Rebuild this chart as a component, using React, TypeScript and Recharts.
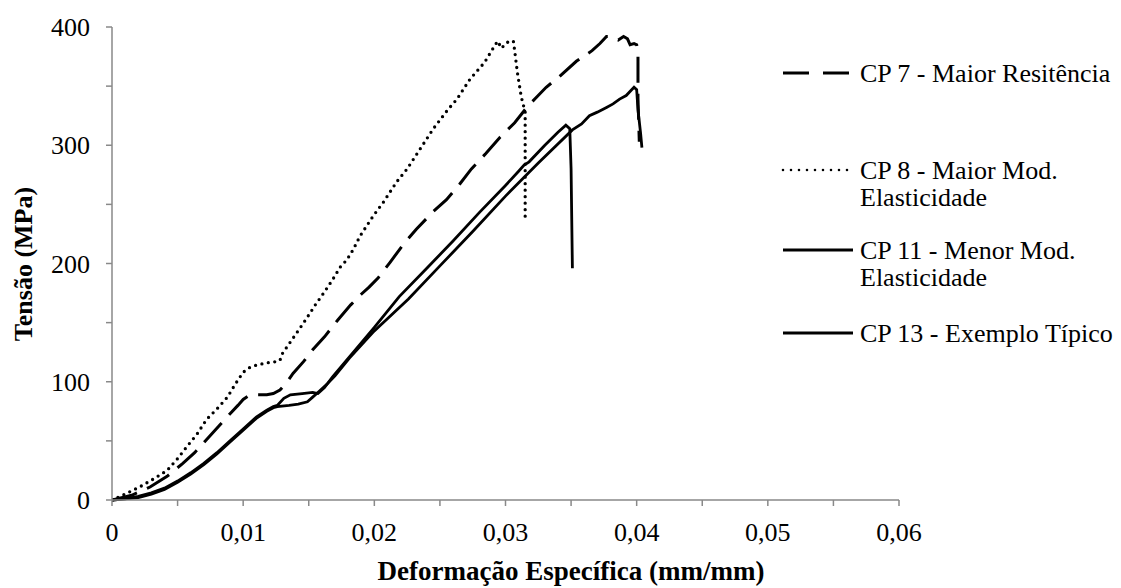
import React from "react";
import { LineChart, Line, XAxis, YAxis } from "recharts";

// ---------- data (strain mm/mm, stress MPa) ----------
const cp7Strain = [0, 0.0015, 0.0029, 0.0042, 0.0054, 0.0063, 0.0072, 0.0081, 0.009, 0.0096, 0.01, 0.0104, 0.0108, 0.0113, 0.0118, 0.0123, 0.0128, 0.0133, 0.0138, 0.0146, 0.0153, 0.0162, 0.0172, 0.0182, 0.019, 0.0196, 0.0203, 0.0212, 0.0222, 0.0232, 0.0245, 0.0255, 0.0265, 0.0274, 0.0285, 0.0296, 0.0307, 0.0317, 0.0324, 0.0331, 0.0341, 0.0354, 0.0366, 0.0372, 0.0377, 0.0381, 0.0386, 0.039, 0.0393, 0.0395, 0.0398, 0.04, 0.0401, 0.0401, 0.0402];
const cp7Stress = [0, 4, 11, 20, 31, 40, 51, 62, 73, 80, 85, 88, 89, 89, 89, 90, 93, 99, 107, 117, 127, 138, 152, 165, 174, 180, 188, 201, 216, 229, 244, 254, 267, 280, 293, 307, 319, 333, 341, 349, 358, 371, 380, 386, 392, 392, 389, 392, 390, 385, 386, 385, 379, 340, 303];

const cp8Strain = [0, 0.001, 0.0021, 0.0032, 0.0042, 0.005, 0.0057, 0.0065, 0.0072, 0.008, 0.0088, 0.0094, 0.01, 0.0105, 0.011, 0.0118, 0.0125, 0.0128, 0.013, 0.0135, 0.014, 0.0148, 0.0155, 0.0162, 0.0168, 0.0174, 0.0179, 0.0184, 0.0189, 0.0199, 0.0207, 0.0217, 0.0225, 0.0235, 0.0245, 0.0256, 0.0263, 0.0273, 0.0284, 0.029, 0.0294, 0.0297, 0.03, 0.0303, 0.0306, 0.0307, 0.0309, 0.0312, 0.0315, 0.0315];
const cp8Stress = [0, 5, 11, 18, 25, 35, 45, 56, 68, 77, 87, 98, 108, 112, 114, 116, 117, 118, 124, 132, 140, 153, 165, 176, 186, 197, 203, 212, 223, 240, 252, 269, 280, 297, 314, 330, 339, 356, 370, 381, 388, 382, 386, 388, 388, 380, 362, 341, 328, 235];

const cp11Strain = [0, 0.001, 0.002, 0.003, 0.004, 0.005, 0.006, 0.007, 0.008, 0.009, 0.01, 0.011, 0.0118, 0.0123, 0.0126, 0.0131, 0.0136, 0.0145, 0.0153, 0.0157, 0.0162, 0.0168, 0.0181, 0.02, 0.0219, 0.024, 0.026, 0.028, 0.03, 0.031, 0.0314, 0.0318, 0.033, 0.034, 0.0346, 0.0349, 0.035, 0.0351];
const cp11Stress = [0, 1, 3, 6, 10, 16, 23, 31, 40, 50, 60, 70, 76, 79, 80, 86, 89, 90, 91, 90, 95, 104, 121, 146, 172, 196, 219, 243, 266, 278, 283, 286, 300, 311, 317, 314, 280, 196];

const cp13Strain = [0, 0.001, 0.002, 0.003, 0.004, 0.005, 0.006, 0.007, 0.008, 0.009, 0.01, 0.011, 0.0118, 0.0123, 0.0126, 0.0135, 0.0142, 0.0149, 0.0153, 0.0158, 0.0164, 0.017, 0.0181, 0.02, 0.0226, 0.025, 0.0275, 0.03, 0.0325, 0.0351, 0.0358, 0.0364, 0.037, 0.0377, 0.0382, 0.0387, 0.0392, 0.0398, 0.04, 0.0401, 0.0403, 0.0404];
const cp13Stress = [0, 1, 2, 5, 9, 15, 22, 30, 39, 49, 59, 69, 75, 78, 79, 80, 81, 83, 87, 92, 98, 105, 120, 143, 170, 198, 227, 257, 285, 313, 318, 325, 328, 332, 335, 339, 342, 349, 347, 330, 310, 298];

const seriesNames = [
  ["CP 7 - Maior Resitência"],
  ["CP 8 - Maior Mod.", "Elasticidade"],
  ["CP 11 - Menor Mod.", "Elasticidade"],
  ["CP 13 - Exemplo Típico"],
];

const xTicks = [0, 0.005, 0.01, 0.015, 0.02, 0.025, 0.03, 0.035, 0.04, 0.045, 0.05, 0.055, 0.06];
const xTickLabels = ["0", "", "0,01", "", "0,02", "", "0,03", "", "0,04", "", "0,05", "", "0,06"];
const yTicks = [0, 50, 100, 150, 200, 250, 300, 350, 400];
const yTickLabels = ["0", "", "100", "", "200", "", "300", "", "400"];

const xTitle = "Deformação Específica (mm/mm)";
const yTitle = "Tensão (MPa)";

const toData = (xs: number[], ys: number[]) => xs.map((x, i) => ({ x, y: ys[i] }));
const cp7Data = toData(cp7Strain, cp7Stress);
const cp8Data = toData(cp8Strain, cp8Stress);
const cp11Data = toData(cp11Strain, cp11Stress);
const cp13Data = toData(cp13Strain, cp13Stress);

const FONT = "'Liberation Serif', 'Times New Roman', serif";
const AXIS = "#898989";

const XTick = (props: any) => {
  const { x, y, payload } = props;
  const idx = xTicks.findIndex((t) => Math.abs(t - payload.value) < 1e-9);
  const label = idx >= 0 ? xTickLabels[idx] : "";
  if (!label) return null;
  return (
    <text x={x} y={y + 33} textAnchor="middle" fontFamily={FONT} fontSize={26} fill="#000">
      {label}
    </text>
  );
};

const YTick = (props: any) => {
  const { x, y, payload } = props;
  const idx = yTicks.indexOf(payload.value);
  const label = idx >= 0 ? yTickLabels[idx] : "";
  if (!label) return null;
  return (
    <text x={x - 14} y={y + 9} textAnchor="end" fontFamily={FONT} fontSize={26} fill="#000">
      {label}
    </text>
  );
};

const legendStyles = [
  { dash: "26 14", width: 3, cap: "butt" },
  { dash: "0 8", width: 2.6, cap: "round" },
  { dash: undefined, width: 3, cap: "butt" },
  { dash: undefined, width: 3, cap: "butt" },
];
const legendRowY = [73, 170, 250, 333];

export default function App() {
  return (
    <div style={{ position: "absolute", left: 0, top: 0, width: 1121, height: 588, background: "#fff" }}>
      <LineChart width={1121} height={588} margin={{ top: 27, right: 222, bottom: 0, left: 0 }}>
        <XAxis
          type="number"
          dataKey="x"
          domain={[0, 0.06]}
          ticks={xTicks}
          allowDataOverflow
          height={88}
          tickSize={6}
          tick={<XTick />}
          axisLine={{ stroke: AXIS, strokeWidth: 1.5 }}
          tickLine={{ stroke: AXIS, strokeWidth: 1.5 }}
          interval={0}
        />
        <YAxis
          type="number"
          domain={[0, 400]}
          ticks={yTicks}
          width={112}
          tickSize={6}
          tick={<YTick />}
          axisLine={{ stroke: AXIS, strokeWidth: 1.5 }}
          tickLine={{ stroke: AXIS, strokeWidth: 1.5 }}
          interval={0}
        />
        <Line data={cp11Data} dataKey="y" type="linear" stroke="#000" strokeWidth={2.8} dot={false} isAnimationActive={false} />
        <Line data={cp13Data} dataKey="y" type="linear" stroke="#000" strokeWidth={2.8} dot={false} isAnimationActive={false} />
        <Line data={cp7Data} dataKey="y" type="linear" stroke="#000" strokeWidth={3} strokeDasharray="26 11" dot={false} isAnimationActive={false} />
        <Line data={cp8Data} dataKey="y" type="linear" stroke="#000" strokeWidth={3.3} strokeDasharray="0 6.5" strokeLinecap="round" dot={false} isAnimationActive={false} />
      </LineChart>
      <svg width={1121} height={588} style={{ position: "absolute", left: 0, top: 0, pointerEvents: "none" }}>
        <text x={571} y={580} textAnchor="middle" fontFamily={FONT} fontSize={27} fontWeight="bold" fill="#000">
          {xTitle}
        </text>
        <text
          x={0}
          y={0}
          transform="translate(32,264) rotate(-90)"
          textAnchor="middle"
          fontFamily={FONT}
          fontSize={26}
          fontWeight="bold"
          fill="#000"
        >
          {yTitle}
        </text>
        {seriesNames.map((lines, i) => {
          const cy = legendRowY[i];
          const st = legendStyles[i];
          return (
            <g key={i}>
              <line
                x1={783}
                x2={853}
                y1={cy}
                y2={cy}
                stroke="#000"
                strokeWidth={st.width}
                strokeDasharray={st.dash}
                strokeLinecap={st.cap as any}
              />
              {lines.map((t, j) => (
                <text key={j} x={860} y={cy + 9 + j * 27} fontFamily={FONT} fontSize={26} fill="#000">
                  {t}
                </text>
              ))}
            </g>
          );
        })}
      </svg>
    </div>
  );
}
